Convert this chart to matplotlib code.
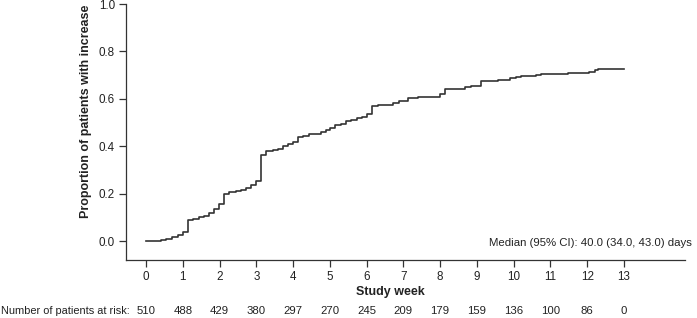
import matplotlib
matplotlib.use("Agg")
import matplotlib.pyplot as plt
import matplotlib.transforms as mtransforms

plt.rcParams['font.family'] = ['Liberation Sans', 'DejaVu Sans']

# Kaplan-Meier style cumulative incidence (step post)
weeks = [0, 0.41, 0.54, 0.7, 0.86, 1.0, 1.13, 1.27, 1.43, 1.58, 1.7, 1.84, 1.99,
         2.13, 2.26, 2.45, 2.58, 2.72, 2.85, 2.99, 3.14, 3.26, 3.44, 3.6, 3.73,
         3.87, 4.0, 4.14, 4.28, 4.43, 4.75, 4.89, 5.0, 5.15, 5.3, 5.44, 5.58,
         5.73, 5.88, 6.0, 6.14, 6.3, 6.73, 6.88, 7.13, 7.4, 7.99, 8.13, 8.68,
         8.83, 9.12, 9.57, 9.9, 10.05, 10.2, 10.6, 10.75, 11.48, 12.05, 12.2,
         12.3, 13.0]
proportion = [0, 0.004, 0.008, 0.015, 0.025, 0.04, 0.087, 0.095, 0.1, 0.105,
              0.12, 0.137, 0.158, 0.198, 0.205, 0.21, 0.215, 0.225, 0.235,
              0.255, 0.365, 0.38, 0.385, 0.39, 0.4, 0.41, 0.416, 0.437, 0.444,
              0.45, 0.46, 0.47, 0.478, 0.49, 0.495, 0.505, 0.51, 0.518, 0.525,
              0.535, 0.569, 0.575, 0.582, 0.59, 0.603, 0.609, 0.622, 0.641,
              0.648, 0.654, 0.675, 0.68, 0.686, 0.69, 0.695, 0.7, 0.705, 0.71,
              0.714, 0.72, 0.724, 0.724]

tick_weeks = list(range(0, 14))
at_risk = [510, 488, 429, 380, 297, 270, 245, 209, 179, 159, 136, 100, 86, 0]
y_ticks = [0.0, 0.2, 0.4, 0.6, 0.8, 1.0]

W, H = 697, 318
fig = plt.figure(figsize=(W / 100, H / 100), dpi=100)
ax = fig.add_axes([126 / W, 1 - 260 / H, (685 - 126) / W, (260 - 4) / H])

line_col = '#333333'
ax.step(weeks, proportion, where='post', color=line_col, lw=1.2)

ax.set_xlim(-0.545, 14.66)
ax.set_ylim(-0.08, 1.0)
ax.set_xticks(tick_weeks)
ax.set_xticklabels([str(t) for t in tick_weeks])
ax.set_yticks(y_ticks)
ax.set_yticklabels([f"{v:.1f}" for v in y_ticks])

for s in ['top', 'right']:
    ax.spines[s].set_visible(False)
for s in ['left', 'bottom']:
    ax.spines[s].set_color(line_col)
    ax.spines[s].set_linewidth(0.9)
ax.tick_params(axis='both', colors=line_col, labelcolor='#222222', labelsize=8.4,
               length=5, width=0.9, pad=3)

fig.text(86 / W, 1 - 111 / H, 'Proportion of patients with increase',
         rotation=90, ha='center', va='center', fontsize=9, fontweight='bold',
         color='#222222')
fig.text(390 / W, 1 - 292 / H, 'Study week', ha='center', va='center',
         fontsize=9, fontweight='bold', color='#222222')

fig.text(692 / W, 1 - 243 / H, 'Median (95% CI): 40.0 (34.0, 43.0) days',
         ha='right', va='center', fontsize=8.2, color='#222222')

trans = mtransforms.blended_transform_factory(ax.transData, fig.transFigure)
y_risk = 1 - 311.5 / H
for t, n in zip(tick_weeks, at_risk):
    ax.text(t, y_risk, str(n), transform=trans, ha='center', va='center',
            fontsize=8.2, color='#222222', clip_on=False)
fig.text(1 / W, y_risk, 'Number of patients at risk:', ha='left', va='center',
         fontsize=7.9, color='#222222')

fig.savefig('out.png', dpi=100)
